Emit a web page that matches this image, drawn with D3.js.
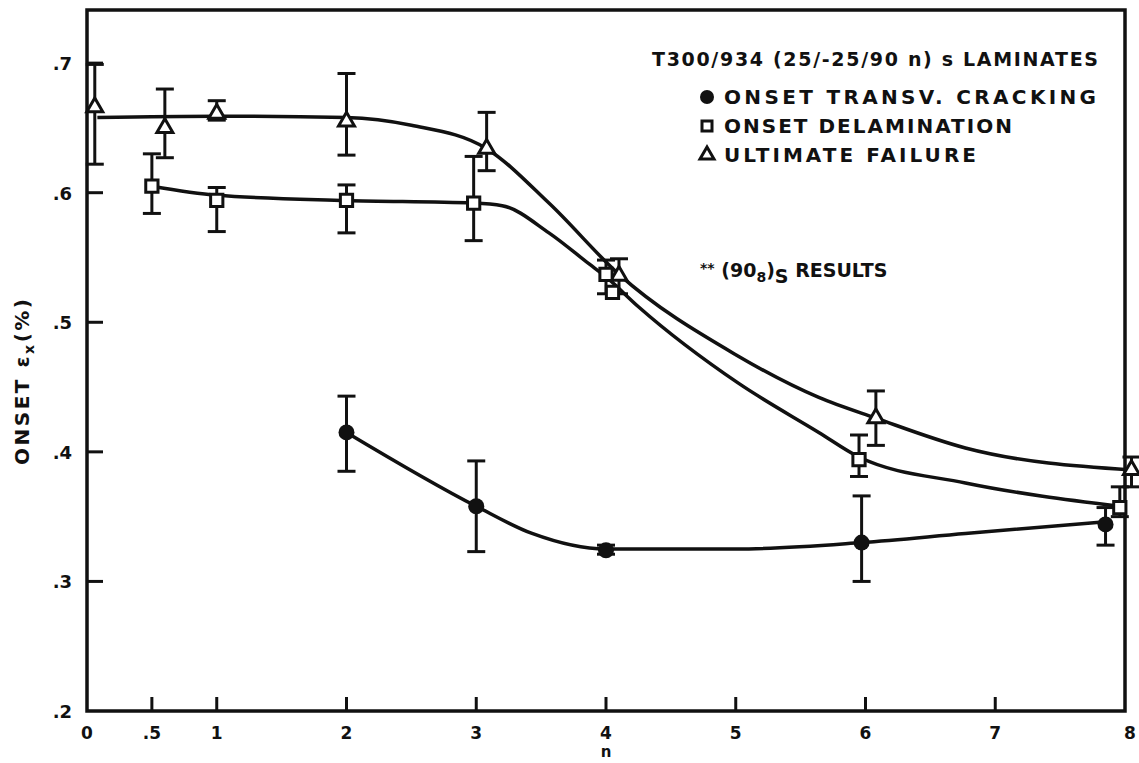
<!DOCTYPE html>
<html>
<head>
<meta charset="utf-8">
<script src="https://cdn.jsdelivr.net/npm/d3@7"></script>
<style>
  body { margin: 0; background: #fff; }
  text { font-family: "DejaVu Sans", sans-serif; font-weight: bold; fill: #111; }
</style>
</head>
<body>
<div id="chart"></div>
<script>
const width = 1139
const height = 763

// x ticks and labels
const xTicks = [0, 0.5, 1, 2, 3, 4, 5, 6, 7, 8]
const xTickLabels = ["0", ".5", "1", "2", "3", "4", "5", "6", "7", "8"]
const yTicks = [0.2, 0.3, 0.4, 0.5, 0.6, 0.7]
const yTickLabels = [".2", ".3", ".4", ".5", ".6", ".7"]

// ultimate failure (triangles)
const ultN  = [0.06, 0.6, 1.0, 2.0, 3.08, 4.1, 6.08, 8.05]
const ultV  = [0.666, 0.650, 0.661, 0.655, 0.634, 0.536, 0.426, 0.386]
const ultLo = [0.622, 0.627, 0.656, 0.629, 0.617, 0.522, 0.405, 0.373]
const ultHi = [0.699, 0.680, 0.671, 0.692, 0.662, 0.549, 0.447, 0.396]

// onset delamination (squares)
const delN  = [0.5, 1.0, 2.0, 2.98, 4.0, 4.05, 5.95, 7.96]
const delV  = [0.605, 0.594, 0.594, 0.592, 0.537, 0.523, 0.394, 0.357]
const delLo = [0.584, 0.570, 0.569, 0.563, 0.522, null, 0.381, 0.350]
const delHi = [0.630, 0.604, 0.606, 0.628, 0.548, null, 0.413, 0.373]

// onset transverse cracking (circles)
const crkN  = [2.0, 3.0, 4.0, 5.97, 7.85]
const crkV  = [0.415, 0.358, 0.324, 0.330, 0.344]
const crkLo = [0.385, 0.323, 0.321, 0.300, 0.328]
const crkHi = [0.443, 0.393, 0.328, 0.366, 0.357]

// hand drawn fit curves
const ultFitN = [0.08, 1, 2, 2.5, 3.08, 3.56, 4.1, 5.0, 5.64, 6.08, 6.77, 8.05]
const ultFitV = [0.658, 0.659, 0.658, 0.652, 0.634, 0.592, 0.537, 0.475, 0.442, 0.426, 0.403, 0.386]
const delFitN = [0.5, 1, 2, 2.98, 3.2, 3.56, 3.87, 4.0, 4.25, 5.02, 5.64, 5.95, 6.77, 7.96]
const delFitV = [0.605, 0.598, 0.594, 0.592, 0.590, 0.569, 0.545, 0.535, 0.512, 0.453, 0.415, 0.396, 0.376, 0.358]
const crkFitN = [2, 3, 3.43, 4, 5, 5.97, 6.77, 7.85]
const crkFitV = [0.415, 0.358, 0.337, 0.325, 0.325, 0.330, 0.337, 0.346]

const x = d3.scaleLinear().domain([0, 8]).range([87, 1125])
const y = d3.scaleLinear().domain([0.2, 0.741]).range([711, 10])

const svg = d3.select("#chart")
              .append("svg")
              .attr("width", width)
              .attr("height", height)

// frame
svg.append("rect")
   .attr("x", x(0))
   .attr("y", y(0.741))
   .attr("width", x(8) - x(0))
   .attr("height", y(0.2) - y(0.741))
   .attr("fill", "none")
   .attr("stroke", "#111")
   .attr("stroke-width", 3.5)

// ticks, pointing inward
svg.selectAll(".xtick")
   .data(xTicks.filter(d => d > 0 && d < 8))
   .enter()
   .append("line")
   .attr("x1", d => x(d)).attr("x2", d => x(d))
   .attr("y1", y(0.2)).attr("y2", y(0.2) - 14)
   .attr("stroke", "#111")
   .attr("stroke-width", 3)

svg.selectAll(".ytick")
   .data(yTicks.filter(d => d > 0.2))
   .enter()
   .append("line")
   .attr("x1", x(0)).attr("x2", x(0) + 16)
   .attr("y1", d => y(d)).attr("y2", d => y(d))
   .attr("stroke", "#111")
   .attr("stroke-width", 3)

svg.selectAll(".xlabel")
   .data(xTicks)
   .enter()
   .append("text")
   .attr("x", d => x(d) + (d === 8 ? 5 : 0))
   .attr("y", 739)
   .attr("text-anchor", "middle")
   .style("font-size", "17px")
   .text((d, i) => xTickLabels[i])

svg.selectAll(".ylabel")
   .data(yTicks)
   .enter()
   .append("text")
   .attr("x", 72)
   .attr("y", d => y(d) + 7)
   .attr("text-anchor", "end")
   .style("font-size", "18px")
   .text((d, i) => yTickLabels[i])

svg.append("text")
   .attr("x", x(4))
   .attr("y", 757)
   .attr("text-anchor", "middle")
   .style("font-size", "15px")
   .text("n")

const ylab = svg.append("text")
                .attr("transform", "translate(29,382) rotate(-90)")
                .attr("text-anchor", "middle")
                .attr("textLength", 166).attr("lengthAdjust", "spacing")
                .style("font-size", "20px")
ylab.append("tspan").text("ONSET \u03b5")
ylab.append("tspan").attr("dy", 5).style("font-size", "14px").text("x")
ylab.append("tspan").attr("dy", -5).text("(%)")

// curves
const line = d3.line()
               .x(d => x(d[0]))
               .y(d => y(d[1]))
               .curve(d3.curveMonotoneX)

const curves = [d3.zip(ultFitN, ultFitV), d3.zip(delFitN, delFitV), d3.zip(crkFitN, crkFitV)]
svg.selectAll(".curve")
   .data(curves)
   .enter()
   .append("path")
   .attr("d", line)
   .attr("fill", "none")
   .attr("stroke", "#111")
   .attr("stroke-width", 3.5)

// error bars
function errorBars(ns, lo, hi) {
  const rows = ns.map((n, i) => ({n: n, lo: lo[i], hi: hi[i]})).filter(d => d.lo != null)
  const g = svg.append("g").attr("stroke", "#111").attr("stroke-width", 3)
  g.selectAll("line.v").data(rows).enter().append("line")
   .attr("x1", d => x(d.n)).attr("x2", d => x(d.n))
   .attr("y1", d => y(d.lo)).attr("y2", d => y(d.hi))
  g.selectAll("line.t").data(rows).enter().append("line")
   .attr("x1", d => x(d.n) - 9).attr("x2", d => x(d.n) + 9)
   .attr("y1", d => y(d.hi)).attr("y2", d => y(d.hi))
  g.selectAll("line.b").data(rows).enter().append("line")
   .attr("x1", d => x(d.n) - 9).attr("x2", d => x(d.n) + 9)
   .attr("y1", d => y(d.lo)).attr("y2", d => y(d.lo))
}
errorBars(ultN, ultLo, ultHi)
errorBars(delN, delLo, delHi)
errorBars(crkN, crkLo, crkHi)

// markers
const tri = d3.symbol().type(d3.symbolTriangle).size(110)
const sq = d3.symbol().type(d3.symbolSquare).size(150)

svg.selectAll(".tri")
   .data(d3.zip(ultN, ultV))
   .enter()
   .append("path")
   .attr("d", tri)
   .attr("transform", d => `translate(${x(d[0])},${y(d[1])})`)
   .attr("fill", "#fff")
   .attr("stroke", "#111")
   .attr("stroke-width", 3)

svg.selectAll(".sq")
   .data(d3.zip(delN, delV))
   .enter()
   .append("path")
   .attr("d", sq)
   .attr("transform", d => `translate(${x(d[0])},${y(d[1])})`)
   .attr("fill", "#fff")
   .attr("stroke", "#111")
   .attr("stroke-width", 3)

svg.selectAll(".dot")
   .data(d3.zip(crkN, crkV))
   .enter()
   .append("circle")
   .attr("cx", d => x(d[0]))
   .attr("cy", d => y(d[1]))
   .attr("r", 8)
   .attr("fill", "#111")

// legend
const legend = svg.append("g").attr("id", "legend")

legend.append("text")
      .attr("x", 652).attr("y", 66)
      .attr("textLength", 446).attr("lengthAdjust", "spacing")
      .style("font-size", "19px")
      .text("T300/934 (25/-25/90 n) s LAMINATES")

const items = [
  {label: "ONSET TRANSV. CRACKING", w: 372, sym: "circle"},
  {label: "ONSET DELAMINATION", w: 288, sym: "square"},
  {label: "ULTIMATE FAILURE", w: 252, sym: "triangle"}
]
items.forEach((it, i) => {
  const cy = 97 + i * 29
  if (it.sym === "circle") {
    legend.append("circle").attr("cx", 707).attr("cy", cy).attr("r", 7).attr("fill", "#111")
  } else {
    legend.append("path")
          .attr("d", it.sym === "square" ? d3.symbol().type(d3.symbolSquare).size(100)() : d3.symbol().type(d3.symbolTriangle).size(85)())
          .attr("transform", `translate(707,${cy})`)
          .attr("fill", "#fff").attr("stroke", "#111").attr("stroke-width", 3)
  }
  legend.append("text")
        .attr("x", 724).attr("y", cy + 7)
        .attr("textLength", it.w).attr("lengthAdjust", "spacing")
        .style("font-size", "20px")
        .text(it.label)
})

const res = legend.append("text")
                  .attr("x", 700).attr("y", 277)
                  .style("font-size", "19px")
res.append("tspan").style("font-size", "14px").attr("dy", -4).text("**")
res.append("tspan").attr("dy", 4).text(" (90")
res.append("tspan").attr("dy", 5).style("font-size", "14px").text("8")
res.append("tspan").attr("dy", -5).text(")")
res.append("tspan").attr("dy", 6).text("S")
res.append("tspan").attr("dy", -6).text("  RESULTS")
</script>
</body>
</html>
